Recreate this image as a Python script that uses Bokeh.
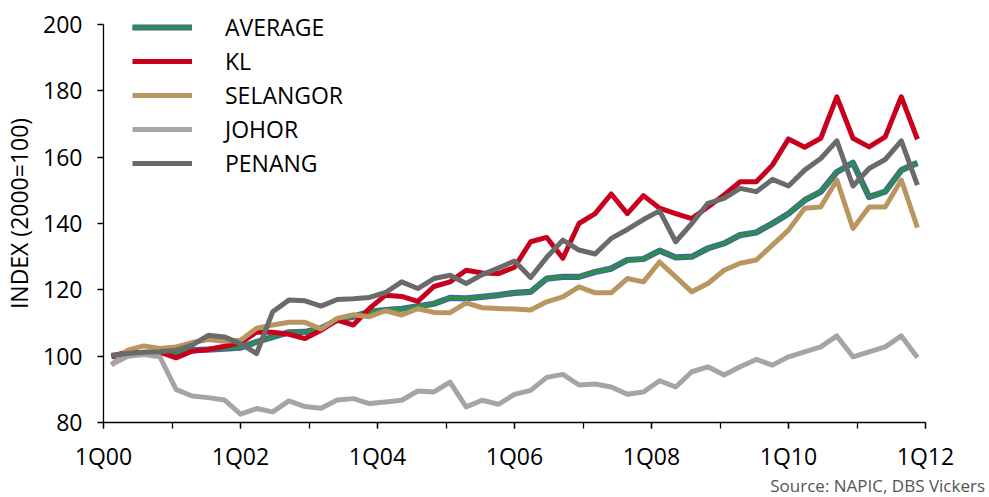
import numpy as np
from bokeh.plotting import figure
from bokeh.layouts import column
from bokeh.models import FixedTicker, Legend, LegendItem, Range1d, Div
from bokeh.embed import file_html
from bokeh.resources import INLINE

# Residential property price indices, 2000 = 100
average = [100.0, 100.5, 101.0, 101.0, 101.2, 101.8, 102.0, 102.3, 102.6, 104.3,
           105.8, 107.2, 107.3, 108.4, 110.9, 111.9, 113.4, 113.9, 114.3, 115.0,
           115.8, 117.6, 117.4, 117.9, 118.4, 119.1, 119.4, 123.4, 123.9, 123.9,
           125.4, 126.4, 129.0, 129.3, 131.8, 129.8, 130.0, 132.5, 134.0, 136.5,
           137.3, 140.0, 143.0, 147.0, 149.6, 155.5, 158.3, 148.0, 149.6, 156.1,
           158.3]
kl = [100.0, 101.3, 101.0, 101.2, 99.5, 101.5, 102.0, 103.0, 104.0, 107.3,
      107.2, 106.6, 105.3, 107.8, 110.9, 109.4, 114.4, 118.4, 118.0, 116.5,
      121.0, 122.4, 125.9, 125.1, 124.9, 126.8, 134.5, 135.8, 129.5, 140.0,
      143.0, 148.9, 143.0, 148.4, 144.6, 143.0, 141.5, 145.0, 148.6, 152.6,
      152.6, 157.6, 165.5, 163.0, 165.7, 178.2, 165.7, 163.1, 166.1, 178.2,
      165.4]
selangor = [97.3, 101.8, 103.1, 102.3, 102.8, 104.1, 105.0, 104.5, 104.8, 108.4,
            109.4, 110.2, 110.2, 108.2, 111.4, 112.5, 111.9, 113.7, 112.4, 114.3,
            113.2, 113.1, 116.1, 114.6, 114.4, 114.2, 113.9, 116.4, 117.9, 120.9,
            119.1, 119.1, 123.4, 122.4, 128.4, 123.9, 119.4, 121.9, 125.9, 128.0,
            129.0, 133.5, 138.0, 144.6, 145.0, 153.1, 138.5, 145.0, 145.0, 153.1,
            138.8]
johor = [97.5, 100.0, 100.5, 99.8, 90.0, 88.0, 87.5, 86.8, 82.5, 84.2,
         83.2, 86.5, 84.8, 84.3, 86.8, 87.2, 85.7, 86.2, 86.7, 89.5,
         89.2, 92.2, 84.7, 86.7, 85.5, 88.5, 89.7, 93.6, 94.5, 91.3,
         91.6, 90.7, 88.5, 89.2, 92.6, 90.7, 95.3, 96.8, 94.3, 96.8,
         99.0, 97.3, 99.8, 101.3, 102.8, 106.1, 99.8, 101.3, 102.8, 106.1,
         99.6]
penang = [100.3, 100.8, 101.2, 101.3, 101.8, 103.3, 106.3, 105.8, 103.8, 100.8,
          113.4, 116.9, 116.7, 115.1, 117.1, 117.3, 117.7, 119.2, 122.4, 120.4,
          123.4, 124.4, 121.9, 124.6, 126.6, 128.7, 123.7, 129.8, 135.0, 132.0,
          130.8, 135.5, 138.2, 141.2, 143.8, 134.5, 140.0, 146.1, 147.6, 150.6,
          149.6, 153.3, 151.3, 156.1, 159.6, 164.9, 151.3, 156.6, 159.3, 164.9,
          151.6]

year_labels = ["1Q00", "1Q02", "1Q04", "1Q06", "1Q08", "1Q10", "1Q12"]
y_ticks = [80, 100, 120, 140, 160, 180, 200]
source_text = "Source: NAPIC, DBS Vickers"

FONT = "Open Sans"
n = len(average)
x = np.arange(n) + 0.5            # each observation sits in the middle of its slot

# the frame reaches a little above 200 so the legend has room at the top
p = figure(width=989, height=475, output_backend="svg", toolbar_location=None,
           x_range=Range1d(0, n), y_range=Range1d(80, 206.03),
           min_border_left=103, min_border_right=64,
           min_border_top=4, min_border_bottom=53)
p.outline_line_color = None
p.grid.visible = False
p.background_fill_color = "white"
p.border_fill_color = "white"

# x axis: a tick every year, a label every second year
n_years = 12
year_pos = [k * n / n_years for k in range(n_years + 1)]
label_pos = year_pos[::2]
p.xaxis.ticker = FixedTicker(ticks=label_pos, minor_ticks=year_pos)
p.xaxis.major_label_overrides = {float(t): lab for t, lab in zip(label_pos, year_labels)}
p.yaxis.ticker = FixedTicker(ticks=y_ticks)
p.yaxis.bounds = (80, 200)

for ax in (p.xaxis[0], p.yaxis[0]):
    ax.axis_line_color = "black"
    ax.axis_line_width = 1.3
    ax.major_tick_line_color = "black"
    ax.major_tick_line_width = 1.3
    ax.major_tick_in = 0
    ax.major_tick_out = 6
    ax.major_label_text_font = FONT
    ax.major_label_text_font_size = "23px"
    ax.major_label_text_color = "black"

p.xaxis.minor_tick_in = 0
p.xaxis.minor_tick_out = 6
p.xaxis.minor_tick_line_color = "black"
p.xaxis.minor_tick_line_width = 1.3
p.xaxis.major_label_standoff = 11
p.yaxis.minor_tick_line_color = None
p.yaxis.major_label_standoff = 15

p.yaxis.axis_label = "INDEX (2000=100)"
p.yaxis.axis_label_text_font = FONT
p.yaxis.axis_label_text_font_size = "23px"
p.yaxis.axis_label_text_font_style = "normal"
p.yaxis.axis_label_text_color = "black"
p.yaxis.axis_label_standoff = 5

LW = 5
avg_edge = p.line(x, average, line_color="#4a5fab", line_width=LW + 1.2, line_join="round")
avg_fill = p.line(x, average, line_color="#2a9048", line_width=LW - 1.2, line_join="round")
r_kl = p.line(x, kl, line_color="#c8001e", line_width=LW, line_join="round")
r_sel = p.line(x, selangor, line_color="#b99660", line_width=LW, line_join="round")
r_joh = p.line(x, johor, line_color="#a5a5a5", line_width=LW, line_join="round")
r_pen = p.line(x, penang, line_color="#6a6a6a", line_width=LW, line_join="round")

legend = Legend(items=[
    LegendItem(label="AVERAGE", renderers=[avg_edge, avg_fill]),
    LegendItem(label="KL", renderers=[r_kl]),
    LegendItem(label="SELANGOR", renderers=[r_sel]),
    LegendItem(label="JOHOR", renderers=[r_joh]),
    LegendItem(label="PENANG", renderers=[r_pen]),
], location=(29, 242))
legend.glyph_width = 60
legend.glyph_height = 34
legend.label_height = 34
legend.spacing = 0
legend.label_standoff = 33
legend.padding = 0
legend.margin = 0
legend.border_line_color = None
legend.background_fill_alpha = 0
legend.label_text_font = FONT
legend.label_text_font_size = "23px"
legend.label_text_color = "black"
p.add_layout(legend)

source = Div(text=source_text, width=989, height=22, margin=(0, 0, 0, 0),
             styles={"font-family": FONT, "font-size": "17px", "color": "#555555",
                     "text-align": "right", "line-height": "22px",
                     "padding-right": "4px", "box-sizing": "border-box",
                     "width": "989px", "background": "white"})

page = column(p, source, spacing=0)
open("out.html", "w").write(file_html(page, INLINE))
